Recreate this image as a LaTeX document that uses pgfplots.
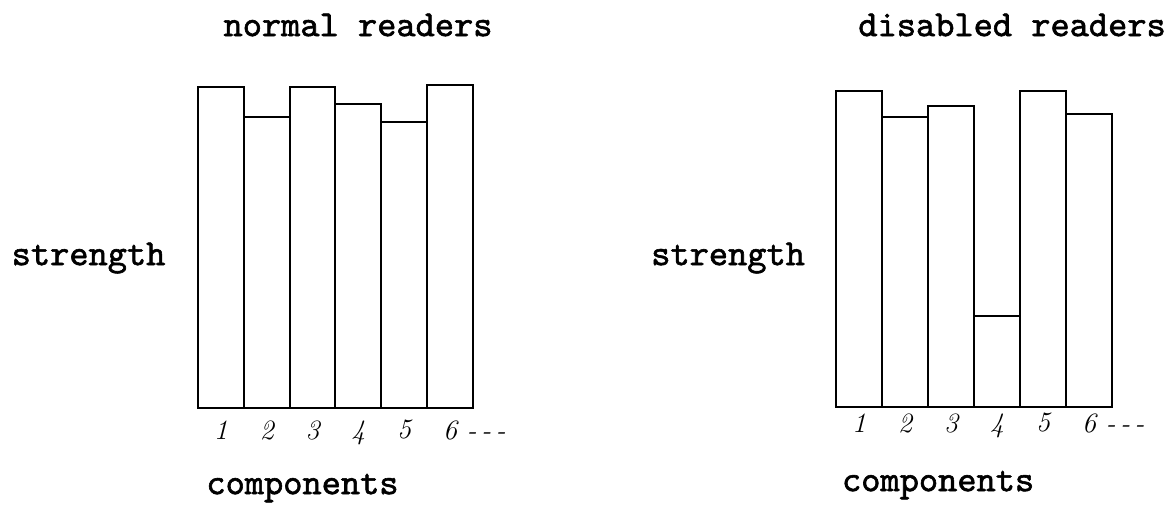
\documentclass[border=0pt]{standalone}
\usepackage{fontspec}
\newfontfamily\twfont{lmmono10-regular.otf}[FakeBold=1.6]
\usepackage{pgfplots}
\pgfplotsset{compat=1.18}

% bar heights in drawing units (base line = 0)
\pgfplotstableread{
c s
1 321
2 291
3 321
4 304
5 286
6 323
}\normaldata
\pgfplotstableread{
c s
1 316
2 290
3 301
4 91
5 316
6 293
}\disableddata

\tikzset{tw/.style={font=\twfont\fontsize{18.3}{20}\selectfont, anchor=base, inner sep=0pt}}

\pgfplotsset{
    reader bars/.style={
        scale only axis,
        height=165pt,
        ymin=0, ymax=330,
        xmin=0.5, xmax=6.5,
        enlarge x limits=false,
        clip=false,
        axis x line=bottom, axis y line=left,
        x axis line style={-, line width=1.4pt},
        y axis line style={draw=none},
        ytick=\empty,
        xtick={1,2,3,4,5,6},
        xticklabels={1,2,3,4,5,{6\rlap{\hspace{0.35em}-\,-\,-}}},
        major tick length=0pt,
        xticklabel style={font=\fontsize{14}{15}\selectfont\itshape, anchor=north, inner sep=0pt},
        every axis title shift=0pt,
        ybar, bar width=1,
    },
}

\begin{document}
\begin{tikzpicture}[x=1pt,y=1pt]
\useasboundingbox (0,0) rectangle (585,252);

\begin{axis}[
    reader bars,
    at={(99pt,48pt)}, anchor=south west,
    width=137.5pt,
    xticklabel style={yshift=-6pt},
    title={normal readers},
    title style={tw, at={(axis description cs:0.582,1.127)}},
    ylabel={strength},
    ylabel style={tw, rotate=-90, at={(axis description cs:-0.398,0.433)}},
    xlabel={components},
    xlabel style={tw, at={(axis description cs:0.38,-0.261)}},
]
\addplot[draw=black, fill=white, line width=1pt] table[x=c, y=s] {\normaldata};
\end{axis}

\begin{axis}[
    reader bars,
    at={(418pt,48.5pt)}, anchor=south west,
    width=138pt,
    xticklabel style={yshift=-3pt},
    title={disabled readers},
    title style={tw, at={(axis description cs:0.638,1.124)}},
    ylabel={strength},
    ylabel style={tw, rotate=-90, at={(axis description cs:-0.391,0.43)}},
    xlabel={components},
    xlabel style={tw, at={(axis description cs:0.37,-0.255)}},
]
\addplot[draw=black, fill=white, line width=1pt] table[x=c, y=s] {\disableddata};
\end{axis}
\end{tikzpicture}
\end{document}
